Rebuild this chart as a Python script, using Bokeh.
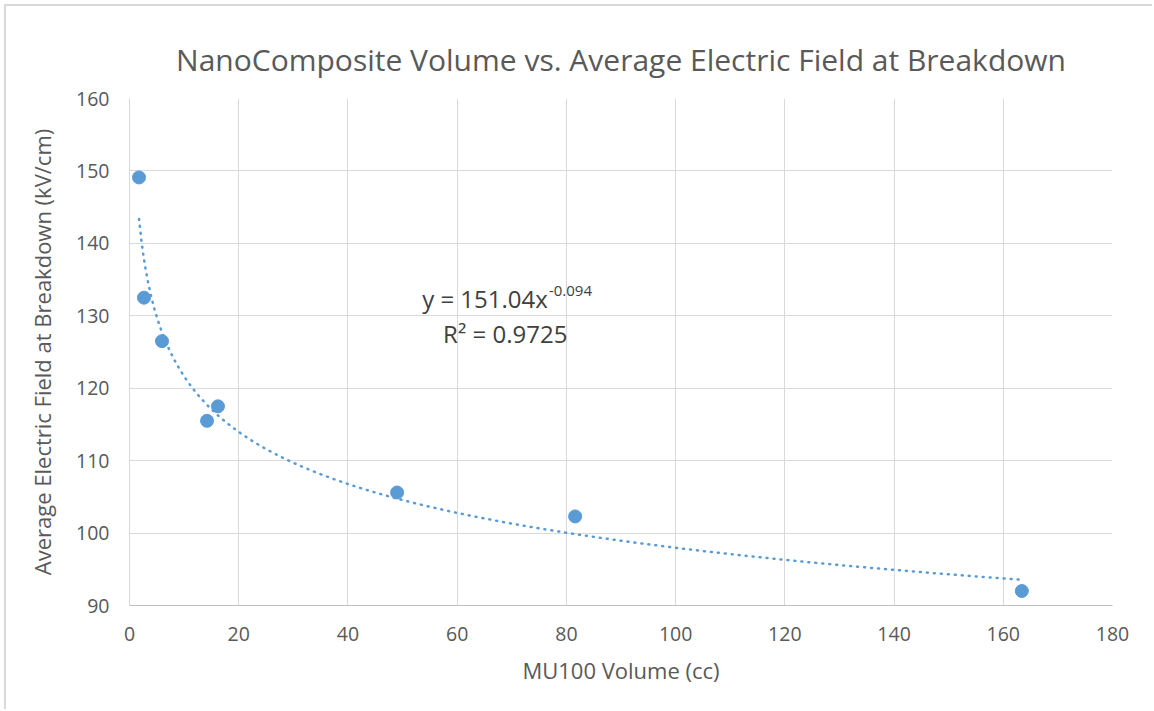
import numpy as np
from bokeh.plotting import figure
from bokeh.models import ColumnDataSource, FixedTicker, Range1d, Label
from bokeh.embed import file_html
from bokeh.resources import INLINE

# ---- data ----
volume_cc = [1.74, 2.65, 5.95, 14.2, 16.2, 49.0, 81.6, 163.4]
field_kv_cm = [149.1, 132.5, 126.5, 115.5, 117.5, 105.6, 102.3, 92.0]

# power trendline shown on the chart: y = a * x^b
trend_a = 151.04
trend_b = -0.094
trend_r2 = 0.9725

x_ticks = [0, 20, 40, 60, 80, 100, 120, 140, 160, 180]
y_ticks = [90, 100, 110, 120, 130, 140, 150, 160]

title_text = "NanoComposite Volume vs. Average Electric Field at Breakdown"
x_label = "MU100 Volume (cc)"
y_label = "Average Electric Field at Breakdown (kV/cm)"

FONT = "Open Sans"
BLUE = "#5B9BD5"
TXT = "#595959"
GRID = "#D9D9D9"

p = figure(width=1148, height=705, output_backend="svg", toolbar_location=None,
           x_range=Range1d(x_ticks[0], x_ticks[-1]), y_range=Range1d(y_ticks[0], y_ticks[-1]),
           min_border_left=123, min_border_right=42, min_border_top=92, min_border_bottom=106)
p.margin = (4, 0, 0, 4)
p.styles = {"border-left": "2px solid #D9D9D9", "border-top": "2px solid #D9D9D9"}

p.title.text = title_text
p.title.align = "center"
p.title.vertical_align = "middle"
p.title.text_font = FONT
p.title.text_font_size = "30px"
p.title.text_font_style = "normal"
p.title.text_color = TXT
p.title.standoff = 35

p.outline_line_color = None
p.background_fill_color = "white"
p.border_fill_color = "white"

p.xaxis.ticker = FixedTicker(ticks=x_ticks)
p.yaxis.ticker = FixedTicker(ticks=y_ticks)
for ax in (p.xaxis[0], p.yaxis[0]):
    ax.major_tick_line_color = None
    ax.minor_tick_line_color = None
    ax.major_tick_out = 0
    ax.major_tick_in = 0
    ax.major_label_text_font = FONT
    ax.major_label_text_font_size = "19.5px"
    ax.major_label_text_color = TXT
    ax.axis_label_text_font = FONT
    ax.axis_label_text_font_size = "22px"
    ax.axis_label_text_font_style = "normal"
    ax.axis_label_text_color = TXT

p.xaxis.axis_label = x_label
p.yaxis.axis_label = y_label
p.xaxis.axis_line_color = "#BFBFBF"
p.yaxis.axis_line_color = GRID
p.xaxis.major_label_standoff = 21
p.yaxis.major_label_standoff = 20
p.xaxis.axis_label_standoff = 11
p.yaxis.axis_label_standoff = 16

p.xgrid.grid_line_color = GRID
p.ygrid.grid_line_color = GRID

# trendline
xs = np.linspace(min(volume_cc), max(volume_cc), 400)
ys = trend_a * xs ** trend_b
p.line(xs, ys, line_color=BLUE, line_width=2.5, line_dash="1 6", line_cap="round")

src = ColumnDataSource(dict(x=volume_cc, y=field_kv_cm))
p.scatter("x", "y", source=src, size=13, fill_color=BLUE, line_color=BLUE)

# equation labels
p.add_layout(Label(x=76.6, y=132.4, text=f"y = {trend_a:.2f}x", text_font=FONT,
                   text_font_size="24px", text_color="#404040", text_align="right",
                   text_baseline="middle"))
p.add_layout(Label(x=76.8, y=133.4, text=f"{trend_b:.3f}", text_font=FONT,
                   text_font_size="15px", text_color="#404040", text_align="left",
                   text_baseline="middle"))
p.add_layout(Label(x=68.8, y=127.5, text=f"R² = {trend_r2:.4f}", text_font=FONT,
                   text_font_size="24px", text_color="#404040", text_align="center",
                   text_baseline="middle"))

open("out.html", "w").write(file_html(p, INLINE))
